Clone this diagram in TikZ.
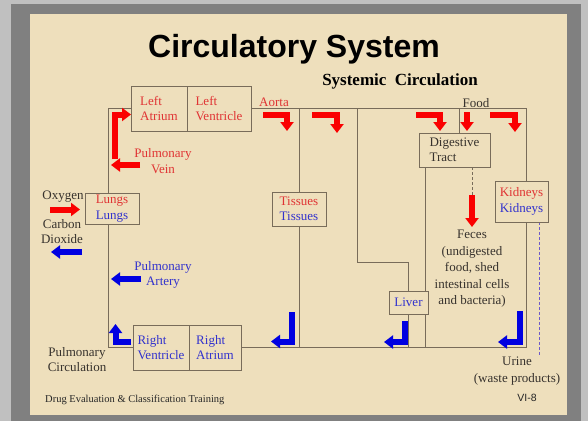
\documentclass[tikz,border=0pt]{standalone}
\usepackage{fontspec}
\setmainfont{Liberation Serif}
\setsansfont{Liberation Sans}
\usetikzlibrary{positioning,arrows.meta,backgrounds}

\definecolor{parch}{RGB}{238,223,188}
\definecolor{frameout}{RGB}{192,192,192}
\definecolor{framein}{RGB}{128,128,128}
\definecolor{linebrown}{RGB}{120,108,90}
\definecolor{txtred}{RGB}{224,52,52}
\definecolor{txtblue}{RGB}{50,50,205}
\definecolor{txtdark}{RGB}{55,50,45}
\definecolor{arrred}{RGB}{250,0,0}
\definecolor{arrblue}{RGB}{0,0,225}
\definecolor{urinecol}{RGB}{110,90,200}

\begin{document}
\begin{tikzpicture}[
    x=1pt, y=-1pt,
    font=\fontsize{13}{15.5}\selectfont,
    box/.style={draw=linebrown, fill=parch, line width=0.8pt, inner sep=0pt, outer sep=0pt, align=center},
    heart/.style={box, minimum height=45pt, align=left},
    lbl/.style={inner sep=0pt, align=center},
    vessel/.style={draw=linebrown, line width=0.8pt},
    oxy/.style={draw=arrred, line width=6pt, line join=miter, -{Triangle[width=13pt,length=9pt]}},
    deoxy/.style={oxy, draw=arrblue}
]
\useasboundingbox (0,0) rectangle (588,421);

% heart
\node[heart, minimum width=56pt, text=txtred] (la) at (159,108.5) {Left\\Atrium};
\node[heart, minimum width=64pt, text=txtred, right=0pt of la] (lv) {Left\\Ventricle};
\node[heart, minimum width=56pt, text=txtblue] (rv) at (161,347.5) {Right\\Ventricle};
\node[heart, minimum width=52pt, text=txtblue, right=0pt of rv] (ra) {Right\\Atrium};

% organs
\node[box, minimum width=54pt, minimum height=31pt] (lungs) at (112,208.5) {\textcolor{txtred}{Lungs}\\\textcolor{txtblue}{Lungs}};
\node[box, minimum width=54pt, minimum height=34pt] (tis) at (299,209) {\textcolor{txtred}{Tissues}\\\textcolor{txtblue}{Tissues}};
\node[box, minimum width=71pt, minimum height=34pt, text=txtdark, align=left] (dig) at (454.5,150) {Digestive\\Tract};
\node[box, minimum width=53pt, minimum height=41pt] (kid) at (521.5,201.5) {\textcolor{txtred}{Kidneys}\\\textcolor{txtblue}{Kidneys}};
\node[box, minimum width=39pt, minimum height=23pt, text=txtblue] (liver) at (408.5,302.5) {Liver};

% titles and labels
\node[lbl, anchor=base, font=\sffamily\bfseries\fontsize{32}{36}\selectfont] (title) at (294,57) {Circulatory System};
\node[lbl, anchor=base, font=\bfseries\fontsize{17}{20}\selectfont] (sys) at (400,85) {Systemic\ \ Circulation};
\node[lbl, anchor=base, text=txtred] (aorta) at (274,106) {Aorta};
\node[lbl, anchor=base, text=txtdark] (food) at (476,107) {Food};
\node[lbl, text=txtred] (pvein) at (163,161) {Pulmonary\\Vein};
\node[lbl, text=txtblue] (partery) at (163,275) {Pulmonary\\Artery};
\node[lbl, anchor=base, text=txtdark] (oxygen) at (63,199) {Oxygen};
\node[lbl, text=txtdark] (co2) at (62,231.5) {Carbon\\Dioxide};
\node[lbl, text=txtdark] (pcirc) at (77,359.5) {Pulmonary\\Circulation};
\node[lbl, text=txtdark, font=\fontsize{13}{16.5}\selectfont] (feces) at (472,269) {Feces\\(undigested\\food, shed\\intestinal cells\\and bacteria)};
\node[lbl, text=txtdark, font=\fontsize{13}{17}\selectfont] (urine) at (517,371.5) {Urine\\(waste products)};
\node[lbl, anchor=base west, text=black!85, font=\fontsize{10.5}{12}\selectfont] (course) at (45,402) {Drug Evaluation \& Classification Training};
\node[lbl, anchor=base, text=black!85, font=\sffamily\fontsize{10.5}{12}\selectfont] (slide) at (527,401) {VI-8};

\begin{scope}[on background layer]
  \fill[frameout] (0,0) rectangle (588,421);
  \fill[framein] (11,4) rectangle (581,421);
  \fill[parch] (30,14) rectangle (567,415);

  \coordinate (pulx) at (108,0);
  \coordinate (tr) at (526,108.5);
  \coordinate (br) at (526,347.5);
  \coordinate (livx) at (357,262);
  \coordinate (foodx) at (459,0);
  \coordinate (digx) at (425,0);
  \coordinate (fecx) at (472,195);
  \coordinate (urix) at (539,355);

  % pulmonary circuit
  \draw[vessel] (la.west) -| (lungs.north -| pulx);
  \draw[vessel] (lungs.south -| pulx) |- (rv.west);
  % systemic circuit
  \draw[vessel] (lv.east) -- (tr) -- (kid.north -| tr);
  \draw[vessel] (kid.south -| tr) -- (br) -- (ra.east);
  \draw[vessel] (tis.north |- tr) -- (tis.north);
  \draw[vessel] (tis.south) -- (tis.south |- br);
  \draw[vessel] (livx |- tr) -- (livx) -| (liver.north);
  \draw[vessel] (liver.south) -- (liver.south |- br);
  \draw[vessel] (foodx |- tr) -- (foodx |- dig.north);
  \draw[vessel] (digx |- dig.south) -- (digx |- br);
  \draw[vessel, dash pattern=on 3pt off 2pt] (fecx |- dig.south) -- (fecx);
  \draw[draw=urinecol, line width=0.8pt, dash pattern=on 3pt off 2pt] (kid.south -| urix) -- (urix);
\end{scope}

% blood flow arrows
\draw[oxy] (114.5,159) -- (114.5,114.5) -- (131,114.5);
\draw[oxy] (140,165) -- (111,165);
\draw[oxy] (50,209.5) -- (80,209.5);
\draw[oxy] (263,114.5) -- (287,114.5) -- (287,131);
\draw[oxy] (312,114.5) -- (337,114.5) -- (337,133);
\draw[oxy] (416,114.5) -- (440,114.5) -- (440,131);
\draw[oxy] (467,112) -- (467,131);
\draw[oxy] (490,114.5) -- (515,114.5) -- (515,132);
\draw[oxy] (fecx) -- (472,227);

\draw[deoxy] (82,252) -- (51,252);
\draw[deoxy] (141,279) -- (111,279);
\draw[deoxy] (131,341.5) -- (115.5,341.5) -- (115.5,324);
\draw[deoxy] (292,312) -- (292,341.5) -- (271,341.5);
\draw[deoxy] (405,321) -- (405,342) -- (384,342);
\draw[deoxy] (520,311) -- (520,342) -- (498,342);
\end{tikzpicture}
\end{document}
